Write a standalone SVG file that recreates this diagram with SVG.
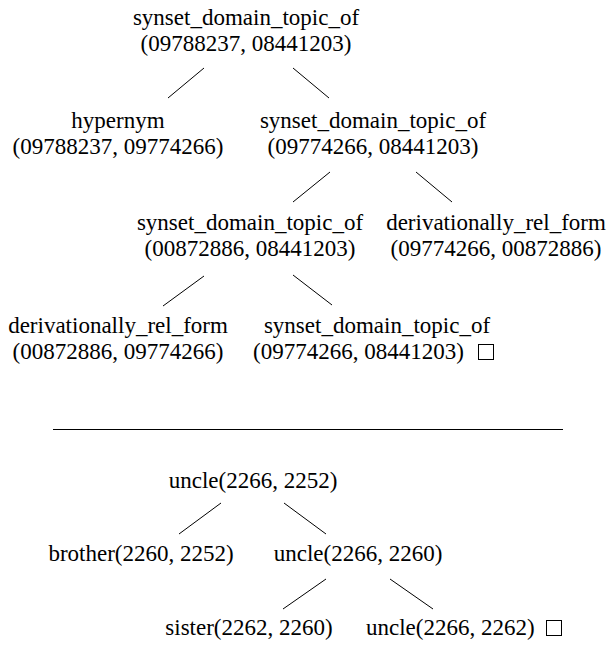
<svg xmlns="http://www.w3.org/2000/svg" width="610" height="645" viewBox="0 0 610 645">
<style>
text{font-family:'Liberation Serif','Times New Roman',Times,serif;font-size:23px;fill:#000}
.c{text-anchor:middle}
.e line,.rule{stroke:#000;stroke-width:1}
.box{fill:none;stroke:#000;stroke-width:1}
</style>
<rect width="610" height="645" fill="#fff"/>
<g id="connectors" class="e">
<line x1="204" y1="68" x2="168" y2="98"/>
<line x1="293" y1="68" x2="329" y2="98"/>
<line x1="330" y1="172" x2="293" y2="202"/>
<line x1="416" y1="172" x2="452" y2="202"/>
<line x1="204" y1="276" x2="163" y2="306"/>
<line x1="293" y1="275" x2="332" y2="305"/>
<line x1="221" y1="503" x2="179" y2="534"/>
<line x1="284" y1="503" x2="326" y2="534"/>
<line x1="326" y1="579" x2="283" y2="609"/>
<line x1="390" y1="579" x2="433" y2="609"/>
</g>
<g id="t1-root"><text class="c" x="246" y="25">synset_domain_topic_of</text><text class="c" x="246" y="51">(09788237, 08441203)</text></g>
<g id="t1-hypernym"><text class="c" x="118" y="128">hypernym</text><text class="c" x="118" y="154">(09788237, 09774266)</text></g>
<g id="t1-sdt2"><text class="c" x="373" y="128">synset_domain_topic_of</text><text class="c" x="373" y="154">(09774266, 08441203)</text></g>
<g id="t1-sdt3"><text class="c" x="250" y="230">synset_domain_topic_of</text><text class="c" x="250" y="256">(00872886, 08441203)</text></g>
<g id="t1-drf1"><text class="c" x="496" y="230">derivationally_rel_form</text><text class="c" x="496" y="256">(09774266, 00872886)</text></g>
<g id="t1-drf2"><text class="c" x="118" y="333">derivationally_rel_form</text><text class="c" x="118" y="359">(00872886, 09774266)</text></g>
<g id="t1-sdt4"><text class="c" x="377" y="333">synset_domain_topic_of</text><text x="253" y="359">(09774266, 08441203)</text><rect class="box" x="478.5" y="344.5" width="15" height="15"/></g>
<line class="rule" x1="53" y1="429.5" x2="563" y2="429.5"/>
<g id="t2-root"><text class="c" x="253" y="488">uncle(2266, 2252)</text></g>
<g id="t2-brother"><text class="c" x="141" y="561">brother(2260, 2252)</text></g>
<g id="t2-uncle2"><text class="c" x="358" y="561">uncle(2266, 2260)</text></g>
<g id="t2-sister"><text class="c" x="249" y="635">sister(2262, 2260)</text></g>
<g id="t2-uncle3"><text x="366" y="635">uncle(2266, 2262)</text><rect class="box" x="546.5" y="620.5" width="15" height="15"/></g>
</svg>
